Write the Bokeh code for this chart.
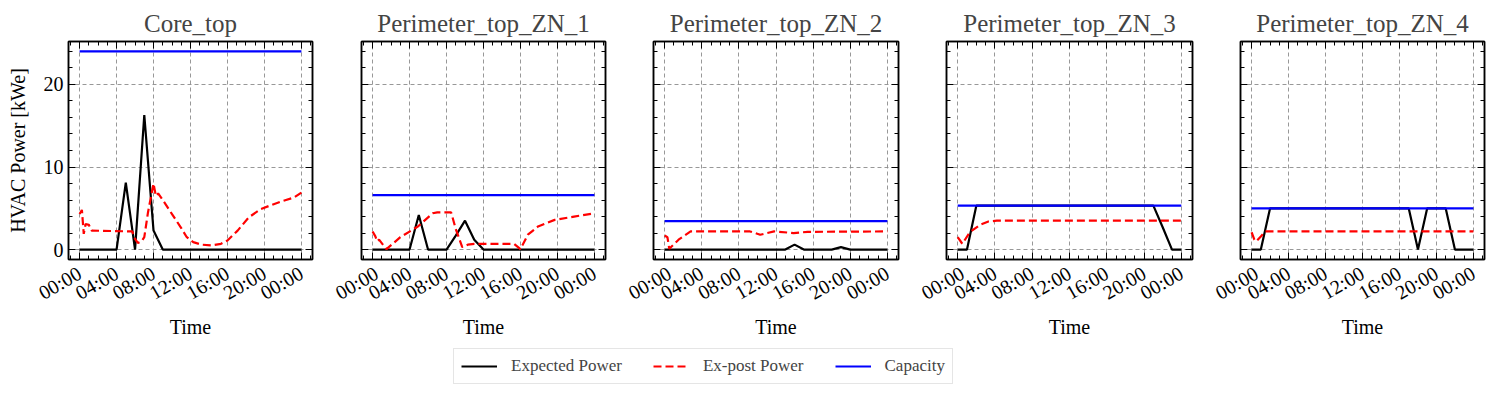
import math
from bokeh.plotting import figure
from bokeh.models import Range1d, LinearAxis, FixedTicker, Legend, LegendItem
from bokeh.layouts import row, column
from bokeh.embed import file_html
from bokeh.resources import INLINE

# ---------------- data ----------------
zones = ["Core_top", "Perimeter_top_ZN_1", "Perimeter_top_ZN_2",
         "Perimeter_top_ZN_3", "Perimeter_top_ZN_4"]

hours = list(range(25))  # 00:00 .. 24:00 hourly

expected_core = [0, 0, 0, 0, 0, 8.1, 0, 16.3, 2.3, 0, 0, 0, 0, 0, 0, 0, 0, 0, 0, 0, 0, 0, 0, 0, 0]
expected_zn1 = [0, 0, 0, 0, 0, 4.2, 0, 0, 0, 1.7, 3.5, 1.2, 0, 0, 0, 0, 0, 0, 0, 0, 0, 0, 0, 0, 0]
expected_zn2 = [0, 0, 0, 0, 0, 0, 0, 0, 0, 0, 0, 0, 0, 0, 0.6, 0, 0, 0, 0, 0.3, 0, 0, 0, 0, 0]
expected_zn3 = [0, 0, 5.32, 5.32, 5.32, 5.32, 5.32, 5.32, 5.32, 5.32, 5.32, 5.32, 5.32, 5.32, 5.32,
                5.32, 5.32, 5.32, 5.32, 5.32, 5.32, 5.32, 2.7, 0, 0]
expected_zn4 = [0, 0, 5.0, 5.0, 5.0, 5.0, 5.0, 5.0, 5.0, 5.0, 5.0, 5.0, 5.0, 5.0, 5.0, 5.0, 5.0, 5.0,
                0, 5.0, 5.0, 5.0, 0, 0, 0]

capacity = [24.0, 6.6, 3.45, 5.32, 5.0]

expost_t_core = [0.0, 0.25, 0.45, 0.65, 1.0, 1.3, 5.7, 6.0, 6.3, 6.7, 7.0, 7.4, 8.0, 8.25, 8.5, 9.0,
                 10.0, 11.0, 11.6, 12.3, 13.2, 14.2, 15.3, 16.0, 17.1, 18.3, 19.6, 21.0, 22.0, 23.2, 24.0]
expost_v_core = [4.3, 4.8, 1.9, 3.1, 3.0, 2.3, 2.2, 1.3, 0.8, 1.0, 1.5, 4.5, 8.0, 6.5, 6.8, 6.0,
                 4.3, 2.6, 1.5, 0.9, 0.6, 0.5, 0.7, 1.1, 2.3, 3.9, 4.9, 5.5, 5.9, 6.3, 6.9]

expost_t_zn1 = [0.0, 0.3, 0.5, 0.7, 1.5, 3.0, 4.9, 6.5, 7.0, 8.5, 9.0, 9.7, 10.3, 11.0, 15.3, 16.0,
                16.8, 17.9, 19.7, 21.8, 24.0]
expost_v_zn1 = [2.2, 1.6, 1.0, 1.2, 0.05, 1.5, 2.8, 4.4, 4.5, 4.5, 2.5, 0.3, 0.6, 0.7, 0.7, 0.05,
                1.8, 2.8, 3.6, 4.0, 4.4]

expost_t_zn2 = [0.0, 0.3, 0.5, 1.5, 2.8, 9.2, 10.3, 11.8, 13.9, 15.4, 24.0]
expost_v_zn2 = [1.7, 1.5, 0.1, 1.2, 2.2, 2.2, 1.8, 2.2, 2.0, 2.15, 2.2]

expost_t_zn3 = [0.0, 0.5, 1.3, 2.4, 3.3, 4.2, 24.0]
expost_v_zn3 = [1.5, 0.7, 2.1, 3.0, 3.4, 3.5, 3.5]

expost_t_zn4 = [0.0, 0.3, 0.5, 1.0, 1.5, 24.0]
expost_v_zn4 = [2.1, 1.2, 1.0, 1.6, 2.2, 2.2]

expected = [expected_core, expected_zn1, expected_zn2, expected_zn3, expected_zn4]
expost_t = [expost_t_core, expost_t_zn1, expost_t_zn2, expost_t_zn3, expost_t_zn4]
expost_v = [expost_v_core, expost_v_zn1, expost_v_zn2, expost_v_zn3, expost_v_zn4]

x_ticks = [0, 4, 8, 12, 16, 20, 24]
x_tick_labels = ["00:00", "04:00", "08:00", "12:00", "16:00", "20:00", "00:00"]
x_minor = list(range(-1, 26))
y_ticks = [0, 10, 20]
y_minor = list(range(0, 26, 2))

series_names = ["Expected Power", "Ex-post Power", "Capacity"]

# ---------------- styling ----------------
FONT = "Liberation Serif"
borders = [(68, 19, 244), (30, 19, 244), (29, 19, 245), (29, 19, 246), (29, 2, 244)]


def style_axis(ax, show_labels):
    ax.major_tick_in = 7
    ax.major_tick_out = 0
    ax.minor_tick_in = 4
    ax.minor_tick_out = 0
    ax.major_tick_line_color = "black"
    ax.minor_tick_line_color = "black"
    ax.axis_line_color = "black"
    ax.axis_line_width = 1.5
    ax.major_label_text_font = FONT
    ax.axis_label_text_font = FONT
    ax.axis_label_text_font_style = "normal"
    ax.axis_label_text_font_size = "20px"
    ax.axis_label_text_color = "black"
    if show_labels:
        ax.major_label_text_font_size = "20px"
        ax.major_label_text_color = "black"
    else:
        ax.major_label_text_font_size = "1px"
        ax.major_label_text_color = None
        ax.major_label_standoff = 0


figs = []
for i, zone in enumerate(zones):
    bl, br, fw = borders[i]
    p = figure(frame_width=fw, frame_height=218,
               x_range=Range1d(-1.2, 25.2), y_range=Range1d(-1.2, 25.2),
               output_backend="svg", toolbar_location=None,
               min_border_left=bl, min_border_right=br,
               min_border_top=41, min_border_bottom=81, title=zone)
    p.title.text_font = FONT
    p.title.text_font_size = "25px"
    p.title.text_font_style = "normal"
    p.title.align = "center"
    p.title.standoff = 9
    p.outline_line_color = "black"
    p.outline_line_width = 1.5
    p.background_fill_color = "white"
    p.border_fill_color = "white"

    xt = FixedTicker(ticks=x_ticks, minor_ticks=x_minor)
    yt = FixedTicker(ticks=y_ticks, minor_ticks=y_minor)
    p.xaxis.ticker = xt
    p.yaxis.ticker = yt
    p.xaxis.major_label_overrides = {t: l for t, l in zip(x_ticks, x_tick_labels)}
    p.xaxis.major_label_orientation = math.pi / 6
    p.xaxis.axis_label = "Time"
    style_axis(p.xaxis[0], True)
    p.xaxis.major_label_standoff = 12
    p.xaxis.axis_label_standoff = 0
    style_axis(p.yaxis[0], i == 0)
    if i == 0:
        p.yaxis.axis_label = "HVAC Power [kWe]"
        p.yaxis.axis_label_standoff = 12

    top = LinearAxis(ticker=FixedTicker(ticks=x_ticks, minor_ticks=x_minor))
    style_axis(top, False)
    p.add_layout(top, "above")
    right = LinearAxis(ticker=FixedTicker(ticks=y_ticks, minor_ticks=y_minor))
    style_axis(right, False)
    p.add_layout(right, "right")

    p.xgrid.ticker = xt
    p.ygrid.ticker = yt
    p.grid.grid_line_color = "#8c8c8c"
    p.grid.grid_line_dash = "4 3"
    p.grid.grid_line_width = 0.9

    p.line(hours, expected[i], color="black", line_width=2.2)
    p.line(expost_t[i], expost_v[i], color="red", line_width=2.2, line_dash="8 4")
    p.line(hours, [capacity[i]] * len(hours), color="blue", line_width=2.2)
    figs.append(p)

# legend strip (its renderers reuse the first panel's data, kept out of view)
lf = figure(width=1487, height=50, output_backend="svg", toolbar_location=None,
            x_axis_type=None, y_axis_type=None, min_border=0,
            x_range=Range1d(100, 101), y_range=Range1d(100, 101))
lf.grid.visible = False
lf.outline_line_color = None
r1 = lf.line(hours, expected[0], color="black", line_width=2.2)
r2 = lf.line(expost_t[0], expost_v[0], color="red", line_width=2.2, line_dash="8 4")
r3 = lf.line(hours, [capacity[0]] * len(hours), color="blue", line_width=2.2)
legend = Legend(items=[LegendItem(label=series_names[0], renderers=[r1]),
                       LegendItem(label=series_names[1], renderers=[r2]),
                       LegendItem(label=series_names[2], renderers=[r3])],
                orientation="horizontal", location=(453, 7),
                label_text_font=FONT, label_text_font_size="17px",
                glyph_width=36, label_standoff=14, spacing=31, padding=7,
                border_line_color="#cccccc", border_line_width=1.5, margin=0)
lf.add_layout(legend)

layout = column(row(*figs), lf)
open("out.html", "w").write(file_html(layout, INLINE))
